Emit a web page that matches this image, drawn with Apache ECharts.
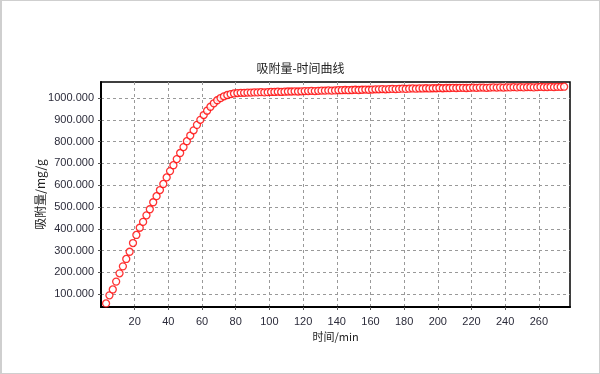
<!DOCTYPE html>
<html><head><meta charset="utf-8">
<script src="https://cdn.jsdelivr.net/npm/echarts@6/dist/echarts.min.js"></script>
<style>
html,body{margin:0;padding:0;background:#fff;}
#c{width:600px;height:374px;box-sizing:border-box;border:1px solid #cfcfcf;border-left-width:2px;}
</style></head>
<body><div id="c"></div>
<script>
const titleText = '吸附量-时间曲线';
const xName = '时间/min';
const yName = '吸附量/mg/g';
const xTicks = [20,40,60,80,100,120,140,160,180,200,220,240,260];
const yTicks = [100,200,300,400,500,600,700,800,900,1000];
const times = [3,5,7,9,11,13,15,17,19,21,23,25,27,29,31,33,35,37,39,41,43,45,47,49,51,53,55,57,59,61,63,65,67,69,71,73,75,77,79,81,83,85,87,89,91,93,95,97,99,101,103,105,107,109,111,113,115,117,119,121,123,125,127,129,131,133,135,137,139,141,143,145,147,149,151,153,155,157,159,161,163,165,167,169,171,173,175,177,179,181,183,185,187,189,191,193,195,197,199,201,203,205,207,209,211,213,215,217,219,221,223,225,227,229,231,233,235,237,239,241,243,245,247,249,251,253,255,257,259,261,263,265,267,269,271,273,275];
const adsorption = [58,95,122,158,196,228,262,295,335,372,405,432,462,490,522,550,578,606,636,665,692,720,748,775,802,828,852,877,900,922,942,960,976,990,1000,1008,1014,1018,1021,1023,1024,1024,1025,1025,1026,1026,1027,1026,1027,1028,1028,1029,1028,1029,1030,1030,1031,1030,1031,1032,1032,1033,1032,1033,1034,1034,1035,1034,1035,1036,1036,1037,1036,1037,1038,1037,1038,1039,1038,1039,1040,1040,1041,1040,1041,1042,1041,1042,1043,1042,1043,1044,1043,1044,1044,1045,1044,1045,1045,1046,1045,1046,1046,1047,1046,1047,1047,1046,1047,1048,1047,1048,1048,1047,1048,1049,1048,1049,1048,1049,1049,1050,1049,1050,1049,1050,1050,1049,1050,1051,1050,1050,1051,1050,1051,1051,1052];
const xRange = [0, 278.5];
const yRange = [41.6, 1073.6];

const points = times.map((t,i)=>[t, adsorption[i]]);
const chart = echarts.init(document.getElementById('c'));
const labelFont = {fontFamily:'Liberation Sans, Arial, sans-serif', fontSize:11, color:'#2b2b3a'};
chart.setOption({
  animation:false,
  title:{text:titleText,left:'center',top:56,textStyle:{fontFamily:'Noto Sans CJK SC',fontSize:12,fontWeight:'normal',color:'#222'}},
  grid:{left:99,right:29,top:81,bottom:66,show:true,borderColor:'#000',borderWidth:1.5,containLabel:false},
  xAxis:{type:'value',min:xRange[0],max:xRange[1],
    name:xName,nameLocation:'middle',nameGap:24,nameMoveOverlap:false,
    nameTextStyle:{fontFamily:'Noto Sans CJK SC',fontSize:11,color:'#222'},
    axisLine:{show:true,lineStyle:{color:'#000',width:2}},
    axisTick:{show:true,customValues:xTicks,length:3,lineStyle:{color:'#555'}},
    axisLabel:Object.assign({customValues:xTicks,margin:9},labelFont),
    splitLine:{show:true,lineStyle:{color:'#999',type:[3,3],width:1}}},
  yAxis:{type:'value',min:yRange[0],max:yRange[1],
    name:yName,nameLocation:'middle',nameGap:55,nameMoveOverlap:false,
    nameTextStyle:{fontFamily:'Noto Sans CJK SC',fontSize:12,color:'#222'},
    axisLine:{show:true,lineStyle:{color:'#000',width:2}},
    axisTick:{show:true,customValues:yTicks,length:3,lineStyle:{color:'#555'}},
    axisLabel:Object.assign({customValues:yTicks,margin:7,formatter:v=>v.toFixed(3)},labelFont),
    splitLine:{show:true,lineStyle:{color:'#999',type:[3,3],width:1}}},
  series:[{type:'scatter',data:points,symbol:'circle',symbolSize:7,
    itemStyle:{color:'#fff',borderColor:'#ff0000',borderWidth:1.3}}]
});
</script></body></html>
